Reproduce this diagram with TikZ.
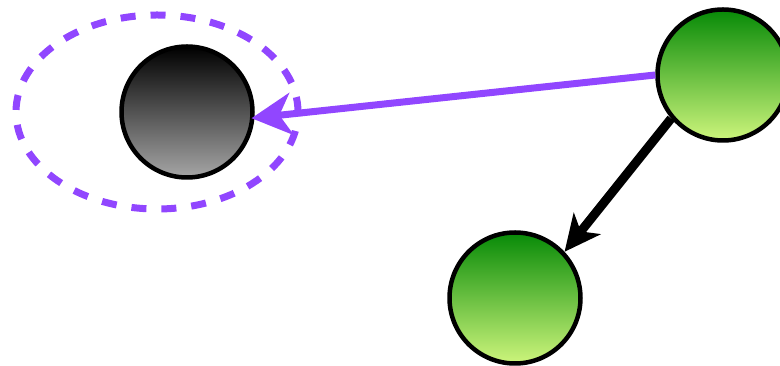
\documentclass[tikz,border=0pt]{standalone}
\usepackage{xcolor}
\usepackage{tikz}
\usetikzlibrary{arrows.meta, positioning}

\definecolor{lilac}{HTML}{9146FF}
\definecolor{leafdark}{HTML}{078A07}
\definecolor{leaflight}{HTML}{CDF57C}

\begin{document}
\begin{tikzpicture}[x=1pt, y=1pt,
        ball/.style={circle, draw=black, line width=4.5pt, minimum size=131pt, inner sep=0pt},
        greenball/.style={ball, top color=leafdark, bottom color=leaflight},
        greyball/.style={ball, top color=black, bottom color=black!35}]
        \useasboundingbox (0,0) rectangle (780,366);

        \node[greyball] (g1) at (187,254) {};
        \node[greenball] (n1) at (723,291) {};
        \node[greenball] (n2) at (515,68) {};

        \draw[lilac, line width=7pt, dash pattern=on 15pt off 15pt] (157,254) ellipse [x radius=141, y radius=97];

        \path[line width=7pt, lilac, -{Stealth[length=40pt, width=42pt, inset=12pt]}, shorten >=-3pt]
        (n1.west) edge (g1.-5);
        \path[line width=9pt, black, -{Stealth[length=36pt, width=34pt, inset=10pt]}]
        (n1.220) edge (n2.43);

    \end{tikzpicture}
\end{document}
